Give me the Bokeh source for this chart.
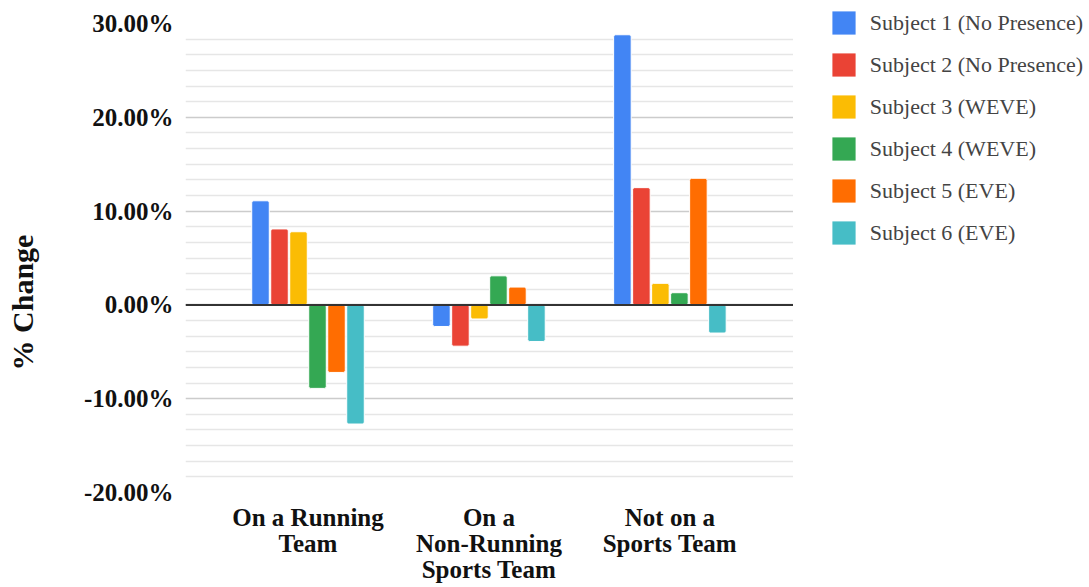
import math
from bokeh.plotting import figure
from bokeh.layouts import row
from bokeh.models import (ColumnDataSource, Range1d, FixedTicker, NumeralTickFormatter,
                          Span, Legend, LegendItem, Label)
from bokeh.transform import dodge
from bokeh.embed import file_html
from bokeh.resources import INLINE

categories = ["On a Running\nTeam", "On a\nNon-Running\nSports Team", "Not on a\nSports Team"]
subjects = ["Subject 1 (No Presence)", "Subject 2 (No Presence)", "Subject 3 (WEVE)",
            "Subject 4 (WEVE)", "Subject 5 (EVE)", "Subject 6 (EVE)"]
subject1 = [0.111, -0.023, 0.288]
subject2 = [0.081, -0.044, 0.125]
subject3 = [0.078, -0.015, 0.023]
subject4 = [-0.089, 0.031, 0.013]
subject5 = [-0.072, 0.019, 0.135]
subject6 = [-0.127, -0.039, -0.030]
series = [subject1, subject2, subject3, subject4, subject5, subject6]
colors = ["#4285F4", "#EA4335", "#FBBC04", "#34A853", "#FF6D01", "#46BDC6"]
y_ticks = [-0.2, -0.1, 0.0, 0.1, 0.2, 0.3]
y_title = "% Change"

SERIF = "Liberation Serif"
H = 587
TITLE_W = 60
LEGEND_W = 296
MAIN_W = 1089 - TITLE_W - LEGEND_W
FRAME_TOP = 23
FRAME_BOTTOM = 492

x_pos = [0.5, 1.5, 2.5]
data = {"x": x_pos}
for i, s in enumerate(series):
    data[f"s{i}"] = s
source = ColumnDataSource(data)


def blank(width):
    f = figure(width=width, height=H, output_backend="svg", toolbar_location=None,
               x_axis_location=None, y_axis_location=None,
               min_border=0, min_border_left=0, min_border_right=0,
               min_border_top=0, min_border_bottom=0)
    f.outline_line_color = None
    f.grid.visible = False
    f.background_fill_color = "white"
    f.border_fill_color = "white"
    return f


# ---- left strip with the y title (its frame is aligned with the main frame)
t = blank(TITLE_W)
t.x_range = Range1d(0, 1)
t.y_range = Range1d(0, 1)
t.add_layout(Label(x=21.5, y=FRAME_BOTTOM - 302, x_units="screen", y_units="screen",
                   text=y_title, angle=math.pi / 2, text_align="center",
                   text_baseline="middle", text_font=SERIF, text_font_style="bold",
                   text_font_size="30px", text_color="#111111"))

# ---- main chart
p = figure(width=MAIN_W, height=H, output_backend="svg", toolbar_location=None,
           x_range=Range1d(-0.177, 3.183), y_range=Range1d(-0.2, 0.3),
           min_border_left=185 - TITLE_W, min_border_right=0, min_border_top=FRAME_TOP,
           min_border_bottom=H - FRAME_BOTTOM)
p.outline_line_color = None
p.background_fill_color = "white"
p.border_fill_color = "white"

step = 0.105
width = 0.097
for i in range(6):
    p.vbar(x=dodge("x", (i - 2.5) * step, range=p.x_range), top=f"s{i}", bottom=0,
           width=width, source=source, fill_color=colors[i], line_color="white",
           line_width=1, border_radius=2)

p.xaxis.ticker = FixedTicker(ticks=x_pos)
p.xaxis.major_label_overrides = {x: c for x, c in zip(x_pos, categories)}
p.xaxis.major_label_text_font = SERIF
p.xaxis.major_label_text_font_style = "bold"
p.xaxis.major_label_text_font_size = "25px"
p.xaxis.major_label_text_line_height = 0.98
p.xaxis.major_label_text_color = "#111111"
p.xaxis.major_label_standoff = 5
p.xaxis.axis_line_color = None
p.xaxis.major_tick_line_color = None
p.xaxis.minor_tick_line_color = None

minor = []
for a in range(5):
    for k in range(1, 6):
        minor.append(y_ticks[a] + k * 0.1 / 6)
p.yaxis.ticker = FixedTicker(ticks=y_ticks, minor_ticks=minor)
p.yaxis.formatter = NumeralTickFormatter(format="0.00%")
p.yaxis.major_label_text_font = SERIF
p.yaxis.major_label_text_font_style = "bold"
p.yaxis.major_label_text_font_size = "25px"
p.yaxis.major_label_text_color = "#111111"
p.yaxis.major_label_standoff = 6
p.yaxis.axis_line_color = None
p.yaxis.major_tick_line_color = None
p.yaxis.minor_tick_line_color = None

p.xgrid.grid_line_color = None
p.ygrid.grid_line_color = "#cccccc"
p.ygrid.grid_line_width = 1.5
p.ygrid.minor_grid_line_color = "#e6e6e6"
p.ygrid.minor_grid_line_width = 1.5

p.add_layout(Span(location=0, dimension="width", line_color="#333333", line_width=2))

# ---- right strip with the legend (swatch renderers lie outside its view)
lg = blank(LEGEND_W)
lg.x_range = Range1d(100, 101)
lg.y_range = Range1d(100, 101)
items = []
for i in range(6):
    r = lg.vbar(x="x", top=f"s{i}", bottom=0, width=width, source=source,
                fill_color=colors[i], line_color=None)
    items.append(LegendItem(label=subjects[i], renderers=[r]))

LEGEND_BOTTOM = 247.2
if "frame_align" in lg.properties():
    lg.frame_align = False
    legend_y = H - LEGEND_BOTTOM
else:
    legend_y = FRAME_BOTTOM - FRAME_TOP - 240

legend = Legend(items=items, location=(35.8, legend_y), orientation="vertical")
legend.glyph_width = 29
legend.glyph_height = 29
legend.label_height = 29
legend.spacing = 13
legend.label_standoff = 12
legend.padding = 0
legend.margin = 0
legend.border_line_color = None
legend.background_fill_alpha = 0
legend.label_text_font = SERIF
legend.label_text_font_size = "22px"
legend.label_text_color = "#444444"
lg.add_layout(legend, "center")

layout = row(t, p, lg, spacing=0)
open("out.html", "w").write(file_html(layout, INLINE))
